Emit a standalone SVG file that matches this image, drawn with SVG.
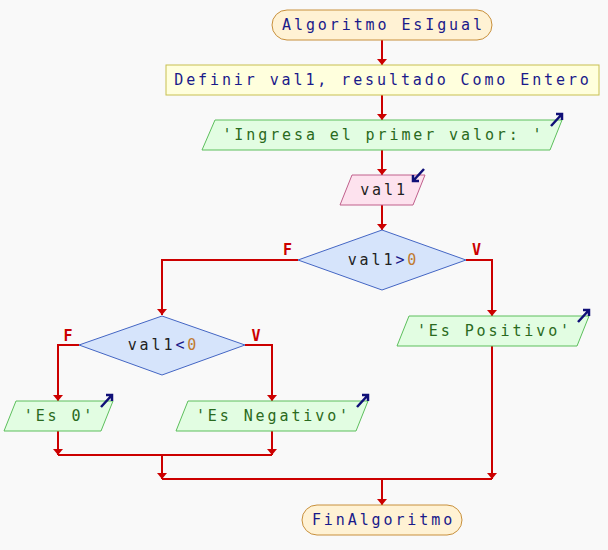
<svg xmlns="http://www.w3.org/2000/svg" width="608" height="550" viewBox="0 0 608 550">
<style>
text{font-family:"DejaVu Sans Mono","Liberation Mono",monospace;font-size:15px;letter-spacing:2.9px;text-anchor:middle;dominant-baseline:central}
.term{fill:#fff2d4;stroke:#c8903c;stroke-width:1}
.proc{fill:#ffffdd;stroke:#c8c050;stroke-width:1}
.out{fill:#e2fde2;stroke:#5cbf5c;stroke-width:1}
.inp{fill:#fde2ee;stroke:#c0608c;stroke-width:1}
.dec{fill:#d6e4fb;stroke:#4466c4;stroke-width:1}
.kw{fill:#1a1a8a}
.str{fill:#2a6a20}
.var{fill:#222222}
.op{fill:#1a1a8a}
.num{fill:#c07a30}
.icon{fill:none;stroke:#101078;stroke-width:2.5}
.conn{fill:none;stroke:#cc0000;stroke-width:2}
.lbl{font-family:"DejaVu Sans Mono","Liberation Mono",monospace;font-size:15px;font-weight:bold;fill:#cc0000;letter-spacing:0}
</style>
<defs>
<marker id="ah" viewBox="0 0 6 10" refX="6" refY="5" markerWidth="6" markerHeight="10" markerUnits="userSpaceOnUse" orient="auto">
<path d="M0,0 L6,5 L0,10 z" fill="#cc0000"/>
</marker>
</defs>
<rect width="608" height="550" fill="#f9f9f9"/>

<g id="connectors">
<path class="conn" d="M382,40 V65" marker-end="url(#ah)"/>
<path class="conn" d="M382,95 V120" marker-end="url(#ah)"/>
<path class="conn" d="M382,150 V175" marker-end="url(#ah)"/>
<path class="conn" d="M382,205 V230" marker-end="url(#ah)"/>
<path class="conn" d="M298,260 H162 V315" marker-end="url(#ah)"/>
<path class="conn" d="M466,260 H492 V316" marker-end="url(#ah)"/>
<path class="conn" d="M79,345 H58 V401" marker-end="url(#ah)"/>
<path class="conn" d="M245,345 H272 V401" marker-end="url(#ah)"/>
<path class="conn" d="M58,431 V455" marker-end="url(#ah)"/>
<path class="conn" d="M272,431 V455" marker-end="url(#ah)"/>
<path class="conn" d="M58,455 H272"/>
<path class="conn" d="M162,455 V479" marker-end="url(#ah)"/>
<path class="conn" d="M492,346 V479" marker-end="url(#ah)"/>
<path class="conn" d="M162,479 H492"/>
<path class="conn" d="M382,479 V505" marker-end="url(#ah)"/>
<text class="lbl" x="287.5" y="250">F</text>
<text class="lbl" x="476.5" y="250">V</text>
<text class="lbl" x="68" y="336">F</text>
<text class="lbl" x="256" y="336">V</text>
</g>

<g id="start">
<rect class="term" x="272" y="10" width="220" height="30" rx="15"/>
<text class="kw" x="383.5" y="25">Algoritmo EsIgual</text>
</g>

<g id="definir">
<rect class="proc" x="166" y="65" width="433" height="30"/>
<text class="kw" x="383" y="80">Definir val1, resultado Como Entero</text>
</g>

<g id="ingresa">
<polygon class="out" points="215,120 562,120 550,150 202,150"/>
<text class="str" x="383.5" y="135">'Ingresa el primer valor: '</text>
<path class="icon" d="M551,126 L562,114 M556,114 H562 V120"/>
</g>

<g id="leer">
<polygon class="inp" points="352,175 425,175 413,205 340,205"/>
<text class="var" x="384" y="190">val1</text>
<path class="icon" d="M424,169 L413,181 M413,175 V181 H419"/>
</g>

<g id="cond1">
<polygon class="dec" points="382,230 466,260 382,290 298,260"/>
<text x="383.5" y="260"><tspan class="var">val1</tspan><tspan class="op">&gt;</tspan><tspan class="num">0</tspan></text>
</g>

<g id="positivo">
<polygon class="out" points="409,316 589,316 577,346 397,346"/>
<text class="str" x="494.5" y="331">'Es Positivo'</text>
<path class="icon" d="M578,322 L589,310 M583,310 H589 V316"/>
</g>

<g id="cond2">
<polygon class="dec" points="162,316 245,345 162,375 79,345"/>
<text x="163.5" y="345"><tspan class="var">val1</tspan><tspan class="op">&lt;</tspan><tspan class="num">0</tspan></text>
</g>

<g id="cero">
<polygon class="out" points="16,401 113,401 101,431 4,431"/>
<text class="str" x="59.5" y="416">'Es 0'</text>
<path class="icon" d="M101,407 L112,395 M106,395 H112 V401"/>
</g>

<g id="negativo">
<polygon class="out" points="188,401 368,401 356,431 176,431"/>
<text class="str" x="273.5" y="416">'Es Negativo'</text>
<path class="icon" d="M357,407 L368,395 M362,395 H368 V401"/>
</g>

<g id="fin">
<rect class="term" x="302" y="505" width="160" height="30" rx="15"/>
<text class="kw" x="383.5" y="520">FinAlgoritmo</text>
</g>
</svg>
